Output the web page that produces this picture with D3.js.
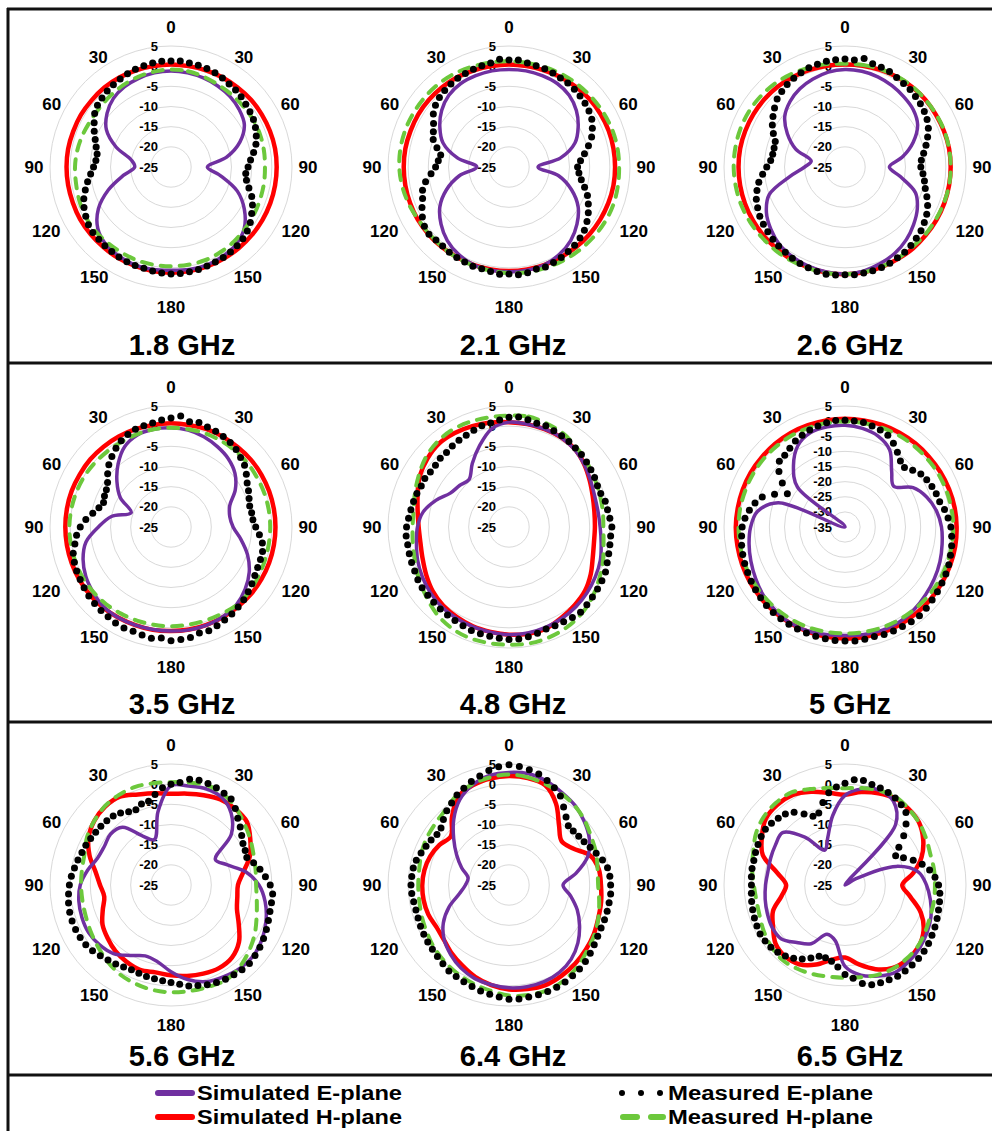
<!DOCTYPE html>
<meta charset="utf-8">
<style>
    body { margin: 0; background: #fff; }
    svg { display: block; font-family: "Liberation Sans", Arial, sans-serif; font-weight: bold; }
</style>
<body>
<div id="chart"></div>

<script src="https://d3js.org/d3.v7.min.js"></script>
<script>
    // panel titles and the inner limit of each radial (dB) axis
    var freqs = ['1.8 GHz', '2.1 GHz', '2.6 GHz', '3.5 GHz', '4.8 GHz', '5 GHz', '5.6 GHz', '6.4 GHz', '6.5 GHz']
    var dbMin = [-25, -25, -25, -25, -25, -35, -25, -25, -25]
    var dbMax = 5
    var angleTicks = [0, 30, 60, 90, 120, 150, 180, 150, 120, 90, 60, 30]

    // simulated curves every 10 deg, measured E-plane dots every 5 deg
    var simAngles = d3.range(0, 360, 10)
    var measAngles = d3.range(0, 360, 5)

    // Simulated E-plane (dB)
    var simE = [
        [-1.2,-1.3,-1.5,-1.8,-2.2,-2.9,-4.0,-6.8,-11.0,-16.0,-12.5,-7.5,-4.0,-1.3,0.1,0.6,0.9,0.8,0.6,0.8,0.9,0.6,0.1,-1.3,-4.2,-8.5,-13.0,-16.0,-15.0,-10.5,-6.5,-4.3,-2.8,-2.0,-1.6,-1.3],
        [-0.8,-0.8,-0.9,-1.1,-1.8,-3.2,-5.2,-7.6,-12.0,-17.8,-12.5,-8.5,-5.2,-3.0,-1.2,0.0,0.8,1.0,1.0,1.0,0.8,0.0,-1.2,-3.0,-5.2,-8.5,-12.5,-17.0,-12.0,-7.6,-5.2,-3.2,-1.8,-1.1,-0.9,-0.8],
        [-0.8,-0.9,-1.2,-1.7,-2.3,-2.9,-4.2,-7.0,-10.5,-14.0,-11.0,-6.4,-4.3,-2.8,-1.4,-0.3,0.5,1.2,1.5,1.4,1.2,0.8,0.2,-1.0,-2.5,-5.0,-11.0,-15.0,-16.5,-12.0,-8.5,-5.5,-3.8,-2.6,-1.8,-1.1],
        [-0.4,-0.6,-1.2,-2.0,-2.9,-4.3,-6.6,-9.5,-10.2,-9.6,-7.4,-4.8,-2.6,-1.0,0.2,0.7,0.9,0.9,0.8,0.8,0.9,1.0,0.9,0.2,-0.6,-1.8,-3.6,-7.0,-10.0,-14.5,-10.5,-7.5,-4.6,-2.0,-0.7,-0.4],
        [1.0,0.9,0.8,0.7,0.2,-0.7,-1.7,-2.4,-2.6,-2.4,-1.8,-0.9,-0.3,0.3,0.8,1.2,1.5,1.7,1.7,1.5,1.3,1.1,0.9,0.4,-0.2,-0.9,-1.7,-2.3,-3.4,-5.7,-8.2,-9.0,-9.6,-6.8,-3.6,-0.3],
        [-1.4,-1.9,-3.0,-5.5,-11.0,-14.0,-9.0,-6.2,-4.3,-3.1,-2.4,-1.6,-0.9,-0.2,0.6,1.2,1.3,1.1,0.9,1.1,1.5,1.5,0.9,0.2,-0.9,-1.9,-2.8,-3.8,-5.6,-11.5,-35.0,-14.5,-8.5,-3.9,-1.8,-1.4],
        [-0.4,-0.1,0.4,0.1,-1.8,-5.5,-12.3,-10.3,-6.2,-3.2,-1.3,0.1,1.2,1.9,1.8,1.2,0.5,-1.2,-3.5,-5.7,-6.3,-4.8,-2.8,-1.9,-1.4,-1.5,-1.8,-2.5,-4.0,-5.6,-5.9,-5.4,-6.3,-11.0,-13.0,-6.5],
        [2.9,3.0,2.4,1.4,0.6,-0.6,-2.0,-4.2,-8.1,-11.6,-9.5,-7.0,-4.8,-2.7,-1.0,0.0,0.5,0.6,0.5,0.1,-0.3,-1.2,-2.5,-4.0,-6.2,-9.2,-12.5,-14.2,-14.7,-12.5,-10.0,-7.1,-3.7,-0.6,1.4,2.6],
        [-2.8,-0.8,0.0,-1.0,-5.5,-25.0,-22.0,-11.5,-6.5,-4.8,-3.5,-2.3,-1.5,-0.8,-0.3,0.0,-1.0,-2.3,-4.8,-11.0,-12.0,-8.2,-6.4,-4.3,-4.1,-4.5,-4.9,-5.3,-5.6,-5.4,-5.1,-4.8,-9.5,-15.0,-12.5,-7.5]
    ]

    // Simulated H-plane (dB)
    var simH = [
        [0.4,0.4,0.5,0.6,0.7,0.9,1.0,1.1,1.2,1.2,1.2,1.2,1.2,1.2,1.2,1.2,1.2,1.2,1.2,1.2,1.1,1.1,1.0,1.0,1.0,0.9,0.9,0.9,0.9,0.8,0.8,0.7,0.7,0.6,0.5,0.4],
        [0.4,0.4,0.5,0.7,0.9,1.1,1.2,1.3,1.3,1.3,1.3,1.2,1.1,1.0,0.9,0.8,0.8,0.8,0.8,0.8,0.8,0.8,0.9,1.0,1.1,1.1,1.1,1.1,1.1,1.0,1.0,0.9,0.8,0.7,0.5,0.4],
        [0.4,0.5,0.6,0.8,0.9,1.0,1.0,1.1,1.2,1.2,1.2,1.2,1.2,1.2,1.3,1.3,1.4,1.5,1.6,1.6,1.5,1.5,1.4,1.4,1.4,1.4,1.4,1.4,1.4,1.3,1.2,1.1,1.0,0.8,0.6,0.5],
        [0.7,0.7,0.8,0.8,0.8,0.9,0.9,0.9,0.9,0.9,0.9,0.9,0.9,0.9,0.8,0.8,0.8,0.8,0.8,0.9,0.9,1.0,1.1,1.2,1.2,1.2,1.2,1.2,1.2,1.2,1.1,1.1,1.0,0.9,0.8,0.7],
        [1.0,0.9,0.8,0.7,0.3,-0.7,-1.9,-2.9,-3.5,-3.7,-3.6,-2.9,-1.6,-0.4,0.3,1.0,1.8,1.9,1.7,1.4,1.2,0.8,0.4,-0.3,-1.3,-2.2,-2.7,-2.6,-2.0,-0.9,0.5,1.4,2.0,1.9,1.6,1.3],
        [0.8,0.8,0.9,1.0,1.1,1.2,1.4,1.6,1.8,1.9,2.0,2.0,2.0,2.0,2.0,2.0,2.0,1.9,1.9,1.8,1.7,1.6,1.5,1.4,1.3,1.2,1.1,1.1,1.0,1.0,1.0,0.9,0.9,0.9,0.8,0.8],
        [-2.4,-2.0,-1.3,-0.5,-0.3,-0.5,-2.3,-4.2,-6.8,-8.4,-8.3,-7.6,-5.6,-3.0,-1.5,-1.2,-1.6,-2.1,-2.6,-3.0,-2.6,-3.0,-3.6,-4.5,-5.4,-7.0,-8.2,-7.4,-6.0,-3.5,-1.4,-0.2,0.4,0.3,-1.1,-1.9],
        [2.0,1.9,1.3,-1.7,-5.7,-8.0,-6.8,-3.6,-2.4,-2.2,-1.8,-1.4,-0.7,-0.1,0.5,1.0,1.4,1.2,0.9,0.2,-0.7,-1.9,-2.9,-3.9,-4.2,-3.7,-3.5,-3.5,-3.7,-4.2,-5.1,-6.2,-3.0,0.2,1.3,1.8],
        [-2.6,-1.6,-0.8,-0.2,-0.4,-1.0,-2.6,-4.8,-7.8,-10.8,-8.6,-5.0,-2.5,-1.2,-0.9,-1.3,-2.8,-5.0,-7.0,-6.2,-4.0,-2.3,-1.9,-2.5,-4.4,-6.0,-9.0,-10.4,-8.0,-3.3,-1.2,0.6,1.0,0.8,-0.4,-1.8]
    ]

    // Measured H-plane (dB)
    var measH = [
        [-0.8,-0.9,-1.2,-1.5,-1.6,-1.6,-1.5,-1.5,-1.6,-1.7,-1.6,-1.5,-1.3,-1.1,-0.8,-0.6,-0.4,-0.4,-0.4,-0.4,-0.4,-0.5,-0.5,-0.4,-0.5,-0.8,-1.1,-1.2,-1.4,-1.7,-2.0,-2.0,-1.8,-1.5,-1.2,-1.0],
        [1.2,1.2,1.3,1.5,1.6,1.8,2.0,2.2,2.3,2.3,2.4,2.5,2.4,2.2,2.0,1.8,1.6,1.5,1.3,1.1,1.0,0.9,0.8,0.8,1.0,1.5,1.9,2.2,2.3,2.3,2.2,2.1,2.0,1.8,1.5,1.3],
        [0.6,0.7,0.8,0.9,1.0,1.0,1.1,1.2,1.2,1.2,1.2,1.1,1.0,1.0,0.9,1.2,1.3,1.5,1.6,1.7,1.7,1.8,1.9,2.0,2.2,2.4,2.5,2.6,2.6,2.6,2.5,2.3,2.0,1.6,1.2,0.9],
        [-0.4,-0.4,-0.3,-0.3,-0.3,-0.3,-0.4,-0.4,-0.4,-0.4,-0.4,-0.3,-0.1,0.2,0.3,-0.1,-0.3,-0.4,-0.4,-0.4,-0.3,-0.2,0.0,0.1,0.2,0.2,0.2,0.2,0.1,0.0,-0.1,-0.3,-0.5,-0.6,-0.5,-0.4],
        [2.6,2.8,2.3,1.8,0.9,0.1,-0.6,-1.1,-1.4,-1.6,-1.2,-0.2,0.8,2.0,3.0,3.7,4.1,4.3,4.2,4.2,4.2,3.8,3.0,1.8,0.8,-0.2,-0.8,-1.1,-1.0,-0.2,0.8,1.9,2.6,2.9,2.8,2.6],
        [-0.1,-0.1,0.0,0.1,0.2,0.3,0.5,0.6,0.7,0.8,0.8,0.8,0.8,0.7,0.6,0.5,0.4,0.3,0.2,0.2,0.3,0.3,0.3,0.3,0.3,0.3,0.2,0.2,0.2,0.1,0.1,0.1,0.0,0.0,-0.1,-0.1],
        [0.5,0.8,1.3,1.0,0.0,-1.3,-2.3,-3.2,-3.7,-3.9,-3.4,-2.4,-1.0,0.3,1.5,2.2,1.9,1.7,1.6,1.4,1.0,0.5,-0.4,-1.3,-2.0,-2.5,-2.7,-2.7,-2.6,-2.2,-1.0,-0.2,0.5,0.8,0.9,0.6],
        [2.4,2.1,1.6,1.1,0.5,-0.4,-1.4,-2.0,-2.7,-2.9,-2.3,-1.4,-0.5,0.3,1.4,2.3,2.8,2.7,2.4,1.6,1.0,0.4,-0.2,-0.8,-1.5,-2.0,-2.4,-2.5,-2.4,-1.9,-1.5,-1.2,-0.6,0.8,1.6,2.1],
        [-1.0,-0.6,-0.1,0.2,-0.4,-1.0,-1.8,-2.5,-2.6,-2.7,-2.6,-2.5,-2.0,-1.4,-1.2,-1.1,-1.3,-1.8,-2.0,-1.9,-1.5,-1.1,-0.8,-1.2,-1.8,-2.5,-2.7,-2.4,-1.6,-0.8,0.5,1.3,1.6,1.5,0.3,-0.6]
    ]

    // Measured E-plane (dB), one row of 12 per 60 deg
    var measE = [
        [1.3,1.4,1.2,1.1,1.0,0.8,0.5,0.1,-0.1,-0.4,-0.8,-1.1,
         -1.4,-1.9,-2.5,-3.2,-4.2,-5.2,-5.9,-6.4,-6.0,-5.0,-3.7,-2.7,
         -1.9,-1.0,-0.3,0.2,0.5,0.7,0.9,1.0,1.1,1.3,1.4,1.5,
         1.5,1.4,1.2,1.0,1.0,0.9,0.8,0.6,0.5,0.3,0.3,0.0,
         -0.6,-1.2,-2.0,-3.0,-4.0,-5.0,-5.8,-6.3,-6.4,-5.8,-5.0,-4.0,
         -3.0,-1.9,-1.2,-0.8,-0.4,-0.1,0.2,0.5,0.8,1.0,1.2,1.3],
        [1.5,1.6,1.2,1.0,0.9,0.7,0.5,0.4,0.2,-0.1,-0.4,-0.8,
         -1.3,-2.2,-3.2,-4.6,-6.0,-7.2,-8.0,-7.6,-6.8,-5.6,-4.3,-3.3,
         -2.3,-1.4,-0.6,-0.1,0.3,0.6,0.9,1.1,1.4,1.2,1.6,1.8,
         1.5,1.7,1.3,1.1,1.2,1.0,0.9,0.8,0.6,0.6,0.9,0.6,
         -0.2,-1.2,-2.2,-2.8,-4.0,-5.6,-6.8,-7.4,-7.8,-6.5,-5.0,-4.3,
         -3.4,-2.1,-1.2,-0.6,-0.2,0.1,0.4,0.6,0.8,1.0,1.2,1.8],
        [1.8,1.6,2.3,1.5,1.3,1.1,0.6,0.3,0.1,-0.3,-0.6,-1.0,
         -1.5,-2.2,-3.2,-4.2,-5.2,-6.0,-6.2,-5.6,-5.0,-4.4,-3.4,-2.4,
         -1.6,-1.0,-0.4,0.0,0.4,0.8,1.0,1.3,1.5,1.6,1.7,1.8,
         1.7,1.9,2.0,1.8,1.6,1.4,1.1,0.8,0.6,0.3,0.0,-0.3,
         -0.6,-1.1,-1.6,-2.4,-3.3,-4.5,-5.6,-6.5,-6.8,-6.8,-6.6,-5.4,
         -4.2,-3.2,-2.2,-1.2,-0.6,0.0,0.4,0.8,1.2,1.4,1.6,1.7],
        [2.0,2.6,1.5,1.8,1.4,1.2,0.9,0.6,0.1,-0.6,-1.2,-2.2,
         -3.2,-3.8,-4.4,-4.8,-4.7,-4.6,-4.0,-3.0,-2.0,-1.5,-1.4,-1.3,
         -1.0,-0.5,0.0,0.5,0.9,1.3,1.6,2.0,2.4,2.2,2.8,3.0,
         3.2,2.6,3.0,2.7,2.5,2.6,2.5,2.2,2.0,1.8,1.6,1.3,
         1.0,0.8,0.5,0.1,-0.8,-1.5,-2.5,-3.8,-5.3,-6.5,-7.2,-6.8,
         -6.5,-5.8,-4.5,-3.2,-2.2,-1.2,-0.3,0.3,0.8,1.0,1.2,1.6],
        [2.2,2.4,2.0,1.6,1.7,1.3,1.1,0.9,0.6,0.4,0.1,-0.2,
         -0.5,-0.8,-0.8,-0.3,-0.2,0.1,0.5,0.3,0.4,0.6,0.9,1.4,
         1.6,1.8,2.0,2.3,2.6,2.4,2.1,2.0,1.9,2.3,2.6,2.9,
         2.9,2.7,2.5,2.4,2.3,2.0,1.8,1.6,1.5,1.4,1.3,1.3,
         1.1,0.8,0.7,0.6,0.5,0.6,0.4,0.0,-0.3,-0.5,-0.7,-1.0,
         -0.9,-1.2,-1.2,-0.9,-0.9,-0.5,-0.2,0.1,0.5,1.0,1.2,1.6],
        [0.3,0.2,0.1,-0.4,-0.9,-1.5,-3.0,-4.8,-6.5,-7.2,-5.8,-4.4,
         -3.8,-3.3,-2.9,-2.6,-1.6,-0.8,0.0,0.4,0.8,1.1,1.5,1.8,
         2.0,2.3,2.6,3.0,3.3,3.2,3.0,2.9,2.8,2.5,2.7,2.8,
         2.7,2.7,2.5,2.4,2.3,2.2,2.1,2.0,1.9,1.7,1.4,1.1,
         0.8,0.5,0.3,0.0,-0.3,-0.7,-1.0,-1.8,-2.9,-4.2,-5.9,-9.3,
         -13.0,-9.7,-6.5,-4.3,-4.0,-3.2,-2.2,-1.5,-0.9,-0.4,0.0,0.3],
        [0.0,0.5,1.6,1.9,1.8,1.6,1.3,1.0,-0.2,-1.6,-2.6,-3.6,
         -4.4,-4.7,-5.0,-3.8,-2.6,-1.5,-0.4,0.3,0.3,0.4,0.7,1.1,
         1.5,1.9,2.2,2.5,2.4,2.2,2.0,1.7,1.3,0.8,0.4,-0.3,
         -0.8,-1.2,-1.4,-1.5,-1.7,-1.8,-1.5,-1.1,-0.7,-0.2,0.4,0.8,
         1.0,1.1,1.1,1.0,0.8,0.5,0.2,-0.2,-0.7,-1.1,-1.5,-1.7,
         -2.0,-2.2,-2.3,-2.5,-2.7,-3.2,-4.0,-4.4,-3.6,-3.5,-2.2,-0.8],
        [4.8,4.5,4.0,3.5,2.6,1.6,0.5,-1.4,-3.0,-4.2,-4.2,-3.9,
         -3.5,-2.8,-2.0,-1.0,-0.2,0.1,0.2,0.3,0.2,0.2,0.2,0.2,
         0.4,0.8,1.3,1.8,2.2,2.5,2.8,3.0,3.1,3.2,3.2,3.4,
         3.3,2.9,2.5,2.2,1.8,1.5,1.2,1.0,0.5,0.1,-0.2,-0.4,
         -0.6,-0.8,-1.0,-1.1,-1.0,-0.8,-0.7,-0.8,-0.9,-1.2,-1.8,-2.3,
         -2.7,-3.2,-3.0,-2.0,-1.0,-0.2,0.8,1.5,2.3,3.0,3.8,4.4],
        [0.2,1.2,1.3,0.8,0.6,0.3,-0.1,-0.7,-1.5,-3.6,-6.0,-8.7,
         -10.5,-9.0,-7.0,-5.2,-3.7,-2.6,-1.8,-1.4,-1.2,-1.0,-0.7,-0.4,
         -0.1,0.3,0.6,0.8,0.9,1.0,1.1,0.9,0.8,0.6,-0.2,-1.8,
         -2.8,-4.6,-5.8,-6.3,-6.2,-5.0,-3.8,-2.8,-2.0,-1.4,-1.0,-0.8,
         -0.7,-0.9,-1.1,-1.3,-1.5,-1.7,-1.8,-1.7,-1.6,-1.6,-1.4,-1.2,
         -1.0,-0.9,-1.2,-1.6,-2.0,-3.0,-4.7,-6.2,-6.0,-3.8,-1.8,-0.6]
    ]

    var width = 992
    var height = 1131
    var R = 121
    var colX = [171, 509, 845]
    var rowY = [167, 527, 885]
    var titleX = [182, 513, 850]
    var titleY = [355, 714, 1066]
    // where Excel set the category labels round each plot: [angle, radius]
    var tickPos = [[0, 140], [33.5, 132], [62, 135], [90, 137], [117, 140], [145, 134],
                   [180, 140], [215, 134], [243, 140], [270, 137], [298, 135], [326.5, 132]]

    var purple = '#7030A0', red = '#FF0000', green = '#6CC83C'

    var svg = d3.select('#chart')
        .append('svg')
        .attr('width', width)
        .attr('height', height)

    function polar(deg, rad) {
        var a = deg * Math.PI / 180
        return [rad * Math.sin(a), -rad * Math.cos(a)]
    }

    freqs.forEach(function (name, i) {
        var cx = colX[i % 3]
        var cy = rowY[Math.floor(i / 3)]
        var r = d3.scaleLinear().domain([dbMin[i], dbMax]).range([0, R]).clamp(true)
        var g = svg.append('g').attr('transform', 'translate(' + cx + ',' + cy + ')')

        var ticks = d3.range(dbMin[i], dbMax + 1, 5)

        // grid rings
        g.selectAll('circle.ring')
            .data(ticks.slice(1))
            .enter().append('circle')
            .attr('class', 'ring')
            .attr('r', function (d) { return r(d) })
            .style('fill', 'none')
            .style('stroke', '#d9d9d9')
            .style('stroke-width', 1)

        // radial axis labels
        g.selectAll('text.rt')
            .data(ticks)
            .enter().append('text')
            .attr('class', 'rt')
            .attr('x', -13)
            .attr('y', function (d) { return -r(d) })
            .attr('dy', '0.35em')
            .attr('text-anchor', 'end')
            .style('font-size', '13px')
            .text(function (d) { return d })

        // angle labels
        g.selectAll('text.at')
            .data(angleTicks)
            .enter().append('text')
            .attr('class', 'at')
            .attr('x', function (d, j) { return polar(tickPos[j][0], tickPos[j][1])[0] })
            .attr('y', function (d, j) { return polar(tickPos[j][0], tickPos[j][1])[1] })
            .attr('dy', '0.35em')
            .attr('text-anchor', 'middle')
            .style('font-size', '17px')
            .text(function (d) { return d })

        var line = d3.lineRadial()
            .angle(function (d) { return d[0] * Math.PI / 180 })
            .radius(function (d) { return r(d[1]) })
            .curve(d3.curveCatmullRomClosed.alpha(0.5))

        function pairs(vals) { return simAngles.map(function (a, k) { return [a, vals[k]] }) }

        g.append('path')
            .attr('d', line(pairs(simH[i])))
            .style('fill', 'none')
            .style('stroke', red)
            .style('stroke-width', 4.5)

        g.append('path')
            .attr('d', line(pairs(simE[i])))
            .style('fill', 'none')
            .style('stroke', purple)
            .style('stroke-width', 3.5)

        g.append('path')
            .attr('d', line(pairs(measH[i])))
            .style('fill', 'none')
            .style('stroke', green)
            .style('stroke-width', 4)
            .style('stroke-dasharray', '10,9')
            .style('stroke-linecap', 'round')

        g.selectAll('circle.dot')
            .data(measAngles.map(function (a, k) { return [a, measE[i][k]] }))
            .enter().append('circle')
            .attr('class', 'dot')
            .attr('cx', function (d) { return polar(d[0], r(d[1]))[0] })
            .attr('cy', function (d) { return polar(d[0], r(d[1]))[1] })
            .attr('r', 3.5)
            .style('fill', '#000')

        svg.append('text')
            .attr('x', titleX[i % 3])
            .attr('y', titleY[Math.floor(i / 3)])
            .attr('text-anchor', 'middle')
            .style('font-size', '29px')
            .text(name)
    })

    // frame lines
    var frame = svg.append('g').style('stroke', '#111').style('stroke-width', 3)
    frame.append('line').attr('x1', 7).attr('x2', width).attr('y1', 9).attr('y2', 9)
    frame.append('line').attr('x1', 8).attr('x2', 8).attr('y1', 8).attr('y2', height)
    ;[363, 722, 1075].forEach(function (y) {
        frame.append('line').attr('x1', 8).attr('x2', width).attr('y1', y).attr('y2', y)
    })

    // legend
    var leg = svg.append('g')
    var legRows = [1093, 1117]
    leg.append('line').attr('x1', 158).attr('x2', 192).attr('y1', legRows[0]).attr('y2', legRows[0])
        .style('stroke', purple).style('stroke-width', 6).style('stroke-linecap', 'round')
    leg.append('line').attr('x1', 158).attr('x2', 192).attr('y1', legRows[1]).attr('y2', legRows[1])
        .style('stroke', red).style('stroke-width', 6).style('stroke-linecap', 'round')
    leg.selectAll('circle')
        .data([622, 641, 660])
        .enter().append('circle')
        .attr('cx', function (d) { return d })
        .attr('cy', legRows[0])
        .attr('r', 3)
        .style('fill', '#000')
    leg.append('line').attr('x1', 623).attr('x2', 663).attr('y1', legRows[1]).attr('y2', legRows[1])
        .style('stroke', green).style('stroke-width', 6).style('stroke-linecap', 'round')
        .style('stroke-dasharray', '14,14')

    var legText = [
        ['Simulated E-plane', 197, legRows[0]],
        ['Simulated H-plane', 197, legRows[1]],
        ['Measured E-plane', 668, legRows[0]],
        ['Measured H-plane', 668, legRows[1]]
    ]
    leg.selectAll('text')
        .data(legText)
        .enter().append('text')
        .attr('x', function (d) { return d[1] })
        .attr('y', function (d) { return d[2] })
        .attr('dy', '0.36em')
        .attr('textLength', 205)
        .attr('lengthAdjust', 'spacingAndGlyphs')
        .style('font-size', '20px')
        .text(function (d) { return d[0] })
</script>
</body>
